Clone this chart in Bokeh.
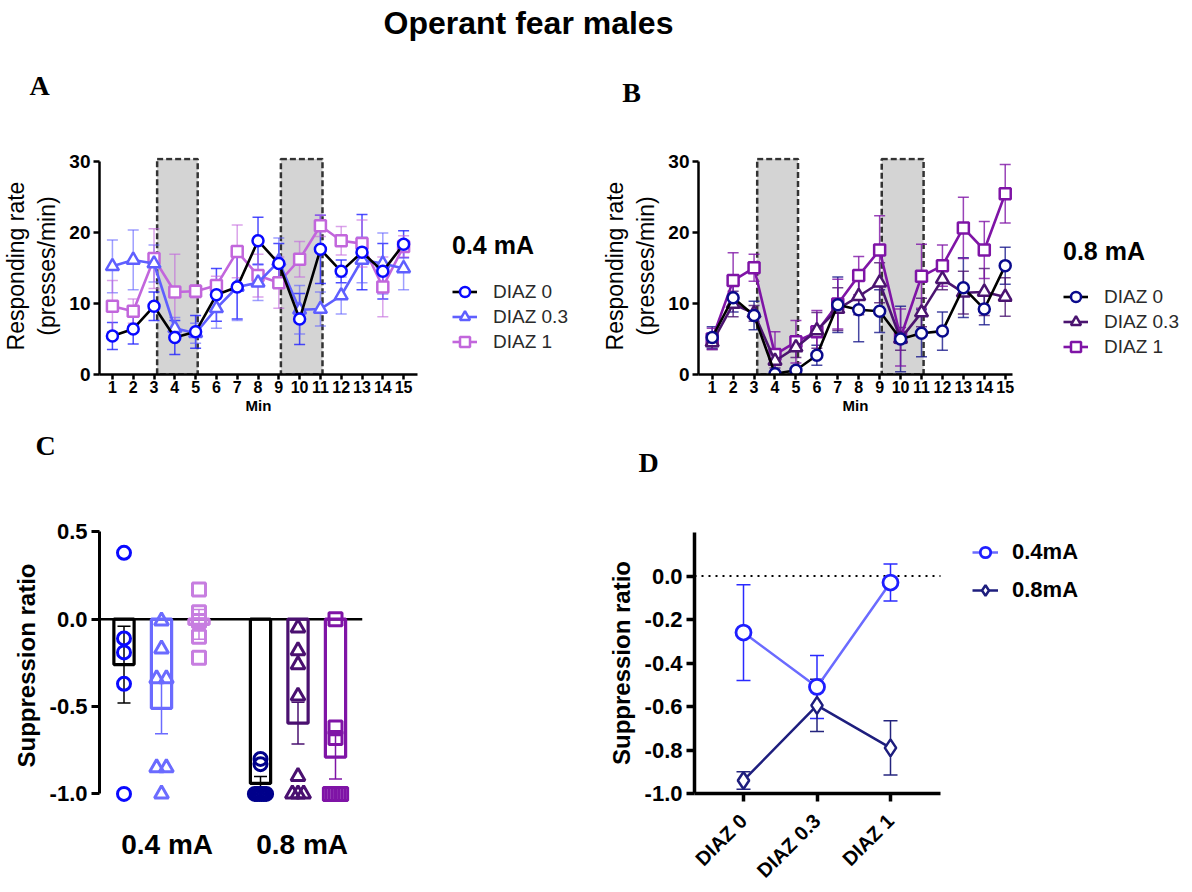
import math
from bokeh.plotting import figure
from bokeh.models import (Range1d, ColumnDataSource, Whisker, TeeHead, Label,
                          Legend, LegendItem, Span, FixedTicker, PrintfTickFormatter, Spacer)
from bokeh.layouts import column, row
from bokeh.embed import file_html
from bokeh.resources import INLINE

FONT = "Liberation Sans"
SERIF = "Liberation Serif"

# ---------------- data ----------------
minutes = list(range(1, 16))
cue_start = [3.15, 9.1]
cue_end = [5.1, 11.1]
cue_top = [30.3, 30.3]

# Panel A (0.4 mA)
a_d0 = [5.4, 6.4, 9.6, 5.2, 6.0, 11.2, 12.3, 18.8, 15.6, 7.8, 17.6, 14.5, 17.2, 14.5, 18.3]
a_d0_sem = [1.9, 2.1, 2.0, 2.4, 2.3, 3.7, 4.5, 3.3, 2.8, 3.6, 4.8, 1.6, 5.3, 3.9, 1.9]
a_d03 = [15.2, 16.1, 15.6, 6.5, 5.8, 9.3, 12.3, 12.9, 15.9, 9.1, 9.2, 11.1, 16.1, 15.6, 14.9]
a_d03_sem = [3.7, 4.2, 2.6, 1.5, 1.4, 2.8, 4.7, 2.5, 3.3, 3.4, 2.4, 2.6, 3.2, 4.3, 3.0]
a_d1 = [9.6, 8.9, 16.3, 11.6, 11.7, 12.5, 17.3, 13.9, 12.9, 16.2, 20.9, 18.8, 18.4, 12.3, 18.0]
a_d1_sem = [3.6, 1.7, 4.2, 5.3, 0.9, 1.3, 3.7, 3.0, 3.6, 2.5, 1.5, 2.0, 3.3, 4.2, 1.5]

# Panel B (0.8 mA)
b_d0 = [5.2, 10.8, 8.3, 0.1, 0.6, 2.7, 9.8, 9.1, 8.9, 5.0, 5.8, 6.1, 12.2, 9.2, 15.3]
b_d0_sem = [1.5, 2.0, 2.0, 0.3, 0.4, 1.4, 3.9, 4.5, 3.0, 4.6, 3.3, 2.7, 4.2, 2.2, 2.6]
b_d03 = [4.5, 9.9, 8.6, 1.9, 3.8, 6.2, 9.2, 11.0, 12.9, 5.0, 8.7, 13.4, 11.5, 11.6, 10.9]
b_d03_sem = [1.0, 1.8, 1.1, 1.0, 1.4, 2.5, 3.0, 2.6, 2.8, 1.6, 2.0, 1.5, 3.0, 3.3, 2.7]
b_d1 = [5.0, 13.2, 15.0, 2.8, 4.6, 6.0, 9.9, 13.9, 17.5, 5.2, 13.8, 15.3, 20.6, 17.5, 25.4]
b_d1_sem = [1.5, 3.9, 1.9, 3.2, 3.0, 3.0, 3.5, 2.7, 4.8, 4.0, 4.5, 2.9, 4.3, 4.0, 4.1]

# Panel D (group means / SEM, also bar heights of panel C)
conditions = ["DIAZ 0", "DIAZ 0.3", "DIAZ 1"]
sr_04_mean = [-0.26, -0.51, -0.03]
sr_04_sem = [0.22, 0.145, 0.085]
sr_08_mean = [-0.94, -0.595, -0.79]
sr_08_sem = [0.04, 0.12, 0.125]

# Panel C individual animals
c_04_d0 = [0.38, -0.11, -0.19, -0.37, -1.0]
c_04_d03 = [-0.01, -0.17, -0.34, -0.34, -0.85, -0.85, -1.0]
c_04_d1 = [0.17, 0.04, -0.01, -0.10, -0.22]
c_08_d0 = [-0.80, -0.83, -1.0, -1.0, -1.0, -1.0, -1.0, -1.0]
c_08_d03 = [-0.05, -0.18, -0.26, -0.44, -0.90, -1.0, -1.0, -1.0]
c_08_d1 = [0.0, -0.62, -0.68, -1.0, -1.0, -1.0, -1.0, -1.0]
shock_labels = ["0.4 mA", "0.8 mA"]


# ---------------- helpers ----------------
def make_fig(width, height, xr, yr, mbl, mbr, mbt, mbb):
    p = figure(width=width, height=height, x_range=Range1d(*xr), y_range=Range1d(*yr),
               output_backend="svg", toolbar_location=None,
               min_border_left=mbl, min_border_right=mbr,
               min_border_top=mbt, min_border_bottom=mbb)
    p.xgrid.visible = False
    p.ygrid.visible = False
    p.outline_line_color = None
    p.background_fill_color = "white"
    p.border_fill_color = "white"
    return p


def blank_fig(width, height, mbt=0, mbb=0, xr=None, yr=None):
    p = figure(width=width, height=height,
               x_range=Range1d(*(xr or (0, width))),
               y_range=Range1d(*(yr or (0, height - mbt - mbb))), output_backend="svg",
               toolbar_location=None, min_border_left=0, min_border_right=0,
               min_border_top=mbt, min_border_bottom=mbb,
               x_axis_type=None, y_axis_type=None)
    p.outline_line_color = None
    p.background_fill_color = "white"
    p.border_fill_color = "white"
    return p


def style_axis(ax, lw, size, tick_out=6, standoff=3):
    ax.axis_line_width = lw
    ax.axis_line_color = "black"
    ax.major_tick_line_width = lw
    ax.major_tick_line_color = "black"
    ax.major_tick_out = tick_out
    ax.major_tick_in = 0
    ax.minor_tick_line_color = None
    ax.major_label_text_font = FONT
    ax.major_label_text_font_style = "bold"
    ax.major_label_text_font_size = size
    ax.major_label_text_color = "black"
    ax.major_label_standoff = standoff
    ax.axis_label_text_font = FONT
    ax.axis_label_text_color = "black"


def add_whisker(p, x, mean, sem, color, alpha=1.0, lw=1.5, head=11):
    src = ColumnDataSource(dict(x=x, upper=[m + s for m, s in zip(mean, sem)],
                                lower=[m - s for m, s in zip(mean, sem)]))
    w = Whisker(source=src, base="x", upper="upper", lower="lower",
                line_color=color, line_alpha=alpha, line_width=lw,
                upper_head=TeeHead(size=head, line_color=color, line_alpha=alpha, line_width=lw),
                lower_head=TeeHead(size=head, line_color=color, line_alpha=alpha, line_width=lw))
    p.add_layout(w)


def letter(p, text, x, y):
    p.add_layout(Label(x=x, y=y, text=text, text_font=SERIF, text_font_style="bold",
                       text_font_size="28px", text_align="center", text_baseline="middle",
                       text_color="black"))


# ---------------- header 1: title + letters A, B ----------------
H1 = 110
ph1 = blank_fig(1192, H1)
ph1.add_layout(Label(x=528, y=H1 - 22, text="Operant fear males", text_align="center",
                     text_baseline="middle", text_font=FONT, text_font_style="bold",
                     text_font_size="32px", text_color="black"))
letter(ph1, "A", 39, H1 - 85)
letter(ph1, "B", 631, H1 - 92)


# ---------------- time course panels ----------------
ppx = 20.93
ROW1_H = 310
MBT1, MBB1 = 157 - H1, ROW1_H - (374 - H1)


def time_panel(width, mbl, mbr, x0, series):
    frame_w = width - mbl - mbr
    p = make_fig(width, ROW1_H, (x0, x0 + frame_w / ppx), (0, 30.5), mbl, mbr, MBT1, MBB1)
    p.quad(left=cue_start, right=cue_end, bottom=[0, 0], top=cue_top,
           fill_color="#d4d4d4", line_color="#333333", line_width=2.5,
           line_dash="6 3", level="image")
    for name, vals, sem, lcol, mcol, ecol, ealpha, marker, msize in series:
        add_whisker(p, minutes, vals, sem, ecol, alpha=ealpha, lw=1.5, head=11)
    for name, vals, sem, lcol, mcol, ecol, ealpha, marker, msize in reversed(series):
        p.line(minutes, vals, line_color=lcol, line_width=2.6)
        p.scatter(minutes, vals, marker=marker, size=msize, fill_color="white",
                  line_color=mcol, line_width=2.5)
    p.xaxis.ticker = FixedTicker(ticks=minutes)
    p.yaxis.ticker = FixedTicker(ticks=[0, 10, 20, 30])
    p.yaxis.bounds = (0, 30)
    style_axis(p.xaxis[0], 2.5, "16px", tick_out=5, standoff=1)
    style_axis(p.yaxis[0], 2.5, "19px", tick_out=6, standoff=3)
    p.xaxis.axis_label = "Min"
    p.xaxis.axis_label_text_font_style = "bold"
    p.xaxis.axis_label_text_font_size = "15px"
    p.xaxis.axis_label_standoff = 1
    p.yaxis.axis_label = "Responding rate\n(presses/min)"
    p.yaxis.axis_label_text_font_style = "normal"
    p.yaxis.axis_label_text_font_size = "23px"
    p.yaxis.axis_label_standoff = 6
    return p


def legend_panel(width, series, title, loc, title_standoff):
    # the series are drawn outside this panel's visible range; only the legend shows
    p = blank_fig(width, ROW1_H, MBT1, MBB1, xr=(-60, -50), yr=(-60, -50))
    items = []
    for name, vals, sem, lcol, mcol, ecol, ealpha, marker, msize in series:
        lr = p.line(minutes, vals, line_color=lcol, line_width=2.6)
        sr = p.scatter(minutes, vals, marker=marker, size=msize, fill_color="white",
                       line_color=mcol, line_width=2.5)
        items.append(LegendItem(label=name, renderers=[lr, sr]))
    leg = Legend(items=items, location=loc, title=title,
                 title_text_font=FONT, title_text_font_style="bold",
                 title_text_font_size="25px", title_text_color="black",
                 title_standoff=title_standoff,
                 label_text_font=FONT, label_text_font_size="19px",
                 label_text_color="#2a2a2a", glyph_width=25, glyph_height=25,
                 label_height=25, label_standoff=16, spacing=0, padding=0, margin=0,
                 border_line_color=None, background_fill_alpha=0)
    p.add_layout(leg)
    return p


series_a = [("DIAZ 0", a_d0, a_d0_sem, "black", "#0a0aff", "#2020ff", 0.8, "circle", 11),
            ("DIAZ 0.3", a_d03, a_d03_sem, "#5f5fff", "#5f5fff", "#5f5fff", 0.6, "triangle", 13),
            ("DIAZ 1", a_d1, a_d1_sem, "#c266dc", "#c266dc", "#c266dc", 0.6, "square", 11)]
series_b = [("DIAZ 0", b_d0, b_d0_sem, "black", "#0a0a8c", "#1a1a8c", 0.8, "circle", 11),
            ("DIAZ 0.3", b_d03, b_d03_sem, "#4b1470", "#4b1470", "#4b1470", 0.8, "triangle", 13),
            ("DIAZ 1", b_d1, b_d1_sem, "#7f14a6", "#7f14a6", "#7f14a6", 0.8, "square", 11)]

pa = time_panel(418, 97, 1, 1 - 13 / ppx, series_a)
la = legend_panel(180, series_a, "0.4 mA", (34, 20), 19)
pb = time_panel(418, 100, 4, 1 - 13.7 / ppx, series_b)
lb = legend_panel(176, series_b, "0.8 mA", (47, 15), 18)


# ---------------- header 2: letters C, D ----------------
H2 = 60
ph2 = blank_fig(1192, H2)
letter(ph2, "C", 45, 420 + H2 - 445)
letter(ph2, "D", 648, 420 + H2 - 462)
TOP2 = 420 + H2


# ---------------- panel C ----------------
c_pos = [0, 1, 2, 3.64, 4.64, 5.64]
c_label_pos = [1.15, 4.75]
ppx_c = 37.5
ppy_c = 174.7
xc0 = -24.5 / ppx_c
C_H = 892 - TOP2
pc = make_fig(598, C_H, (xc0, xc0 + 263 / ppx_c),
              (-(802 - 618.7) / ppy_c, (618.7 - 528) / ppy_c), 99, 236, 528 - TOP2, 892 - 802)
c_means = sr_04_mean + sr_08_mean
c_sems = sr_04_sem + sr_08_sem
c_cols = ["black", "#6b6bff", "#c77ee0", "black", "#4a1070", "#7f14a6"]
c_pt_cols = ["#0a0aff", "#6b6bff", "#c77ee0", "#00008b", "#4a1070", "#7f14a6"]
c_markers = ["circle", "triangle", "square", "circle", "triangle", "square"]
c_sizes = [13, 14, 13, 13, 14, 13]
c_points = [c_04_d0, c_04_d03, c_04_d1, c_08_d0, c_08_d03, c_08_d1]

pc.add_layout(Span(location=0, dimension="width", line_color="black", line_width=2.5, level="underlay"))
for i in range(6):
    add_whisker(pc, [c_pos[i]], [c_means[i]], [c_sems[i]], c_cols[i], lw=1.5, head=13)
pc.vbar(x=c_pos, top=c_means, bottom=0, width=0.54, fill_alpha=0,
        line_color=c_cols, line_width=3.2)
for i in range(6):
    vals = c_points[i]
    counts = {}
    for v in vals:
        counts[round(v, 2)] = counts.get(round(v, 2), 0) + 1
    seen = {}
    xs = []
    for v in vals:
        k = round(v, 2)
        n = counts[k]
        j = seen.get(k, 0)
        seen[k] = j + 1
        w = 0 if n == 1 else min(0.15, 0.13 * (n - 1))
        off = 0 if n == 1 else -w + 2 * w * j / (n - 1)
        xs.append(c_pos[i] + off)
    pc.scatter(xs, vals, marker=c_markers[i], size=c_sizes[i], fill_alpha=0,
               line_color=c_pt_cols[i], line_width=3)

pc.yaxis.ticker = FixedTicker(ticks=[-1.0, -0.5, 0.0, 0.5])
pc.yaxis.formatter = PrintfTickFormatter(format="%.1f")
pc.yaxis.bounds = (-1.0, 0.5)
style_axis(pc.yaxis[0], 3, "22px", tick_out=8, standoff=4)
pc.yaxis.axis_label = "Suppression ratio"
pc.yaxis.axis_label_text_font_style = "bold"
pc.yaxis.axis_label_text_font_size = "24px"
pc.yaxis.axis_label_standoff = 7
pc.xaxis.ticker = FixedTicker(ticks=c_label_pos)
pc.xaxis.major_label_overrides = {c_label_pos[0]: shock_labels[0], c_label_pos[1]: shock_labels[1]}
style_axis(pc.xaxis[0], 0, "28px", tick_out=0, standoff=26)
pc.xaxis.axis_line_color = None
pc.xaxis.major_tick_line_color = None


# ---------------- panel D ----------------
ppx_d = 73.5
d_x = [0, 1, 2]
xd0 = -49 / ppx_d
xd_axis_end = xd0 + 246 / ppx_d
D_TOP = TOP2 + 1
D_H = 892 - D_TOP
pd = make_fig(594, D_H, (xd0, xd0 + (1190 - 694) / ppx_d),
              (-1.0, 0.2), 96, 2, 532 - D_TOP, 892 - 793)
pd.line([xd0, xd_axis_end], [0, 0], line_color="black", line_width=2,
        line_dash="2 5", level="underlay")
add_whisker(pd, d_x, sr_04_mean, sr_04_sem, "#2a2aff", lw=1.5, head=14)
add_whisker(pd, d_x, sr_08_mean, sr_08_sem, "#24247e", lw=1.5, head=14)
l4 = pd.line(d_x, sr_04_mean, line_color="#6b6bff", line_width=2.5)
s4 = pd.scatter(d_x, sr_04_mean, marker="circle", size=15, fill_color="white",
                line_color="#1f1fff", line_width=2.8)
l8 = pd.line(d_x, sr_08_mean, line_color="#1e1e7e", line_width=2.5)
s8 = pd.scatter(d_x, sr_08_mean, marker="diamond", size=17, fill_color="white",
                line_color="#1e1e7e", line_width=2.5)
legd = Legend(items=[LegendItem(label="0.4mA", renderers=[l4, s4]),
                     LegendItem(label="0.8mA", renderers=[l8, s8])],
              location=(278, 793 - 605), label_text_font=FONT, label_text_font_style="bold",
              label_text_font_size="22px", label_text_color="black",
              glyph_width=26, glyph_height=30, label_height=30, label_standoff=14,
              spacing=8, padding=0, margin=0, border_line_color=None,
              background_fill_alpha=0)
pd.add_layout(legd)
pd.yaxis.ticker = FixedTicker(ticks=[-1.0, -0.8, -0.6, -0.4, -0.2, 0.0])
pd.yaxis.formatter = PrintfTickFormatter(format="%.1f")
style_axis(pd.yaxis[0], 3.5, "22px", tick_out=8, standoff=4)
pd.yaxis.axis_label = "Suppression ratio"
pd.yaxis.axis_label_text_font_style = "bold"
pd.yaxis.axis_label_text_font_size = "24px"
pd.yaxis.axis_label_standoff = 7
pd.xaxis.ticker = FixedTicker(ticks=d_x)
pd.xaxis.bounds = (xd0, xd_axis_end)
pd.xaxis.major_label_overrides = {d_x[i]: conditions[i] for i in range(3)}
style_axis(pd.xaxis[0], 3.5, "20px", tick_out=8, standoff=16)
pd.xaxis.major_label_orientation = math.pi / 4


layout = column(ph1,
                row(pa, la, pb, lb),
                ph2,
                row(column(pc), column(Spacer(width=594, height=1), pd)))
open("out.html", "w").write(file_html(layout, INLINE))
